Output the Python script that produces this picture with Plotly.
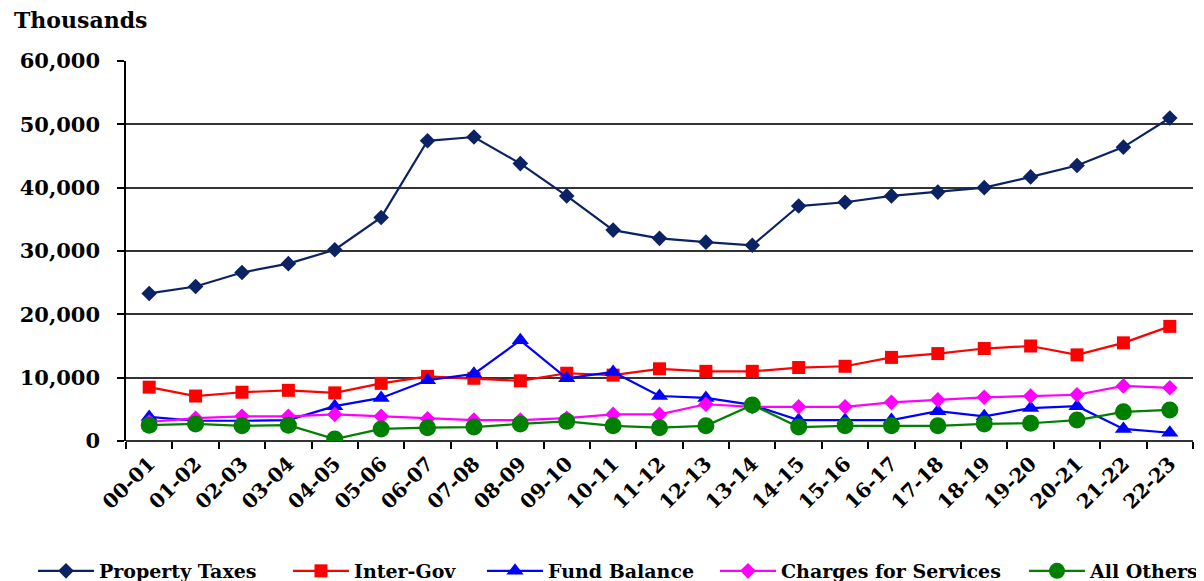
import plotly.graph_objects as go

years = ["00-01","01-02","02-03","03-04","04-05","05-06","06-07","07-08","08-09","09-10",
         "10-11","11-12","12-13","13-14","14-15","15-16","16-17","17-18","18-19","19-20",
         "20-21","21-22","22-23"]

property_taxes = [23300, 24400, 26600, 28000, 30200, 35300, 47400, 48000, 43800, 38700,
                  33300, 32000, 31400, 30900, 37100, 37700, 38700, 39300, 40000, 41700,
                  43500, 46400, 51000]
inter_gov = [8500, 7100, 7700, 8000, 7600, 9100, 10200, 9900, 9500, 10700,
             10400, 11400, 11000, 11000, 11600, 11800, 13200, 13800, 14600, 15000,
             13600, 15500, 18100]
fund_balance = [3800, 3200, 3200, 3300, 5500, 6800, 9600, 10600, 15900, 9900,
                10900, 7100, 6800, 5700, 3300, 3300, 3300, 4700, 3900, 5200,
                5500, 1900, 1300]
charges = [3000, 3600, 3900, 3900, 4200, 3900, 3500, 3300, 3300, 3600,
           4200, 4200, 5800, 5400, 5400, 5400, 6100, 6500, 6900, 7100,
           7300, 8700, 8400]
all_others = [2500, 2700, 2400, 2500, 300, 1900, 2100, 2200, 2700, 3100,
              2400, 2100, 2400, 5700, 2200, 2400, 2400, 2400, 2700, 2800,
              3300, 4600, 4900]

y_ticks = [0, 10000, 20000, 30000, 40000, 50000, 60000]
y_tick_labels = ["0", "10,000", "20,000", "30,000", "40,000", "50,000", "60,000"]

series = [
    ("Property Taxes", property_taxes, "#0b2264", "diamond", 12),
    ("Inter-Gov", inter_gov, "#ff0000", "square", 13),
    ("Fund Balance", fund_balance, "#0000ff", "triangle-up", 15),
    ("Charges for Services", charges, "#ff00ff", "diamond", 12),
    ("All Others", all_others, "#008000", "circle", 17),
]
legend_x = [25, 280, 474, 707, 1016]   # left edge of each legend entry (px)

FONT = "DejaVu Serif"
W, H = 1204, 581

fig = go.Figure()
legend_layout = {}
for i, (name, vals, color, sym, size) in enumerate(series):
    key = "legend" if i == 0 else f"legend{i+1}"
    fig.add_trace(go.Scatter(
        x=years, y=vals, name=name, mode="lines+markers",
        line=dict(color=color, width=2.2),
        marker=dict(symbol=sym, size=size, color=color),
        legend=key,
    ))
    legend_layout[key] = dict(
        orientation="h", xref="container", yref="container",
        x=legend_x[i] / W, xanchor="left", y=0.031, yanchor="middle",
        font=dict(family=FONT, size=19, color="black", weight="bold"),
        itemwidth=56, bgcolor="rgba(0,0,0,0)",
    )

fig.update_layout(
    width=W, height=H,
    margin=dict(l=118, r=19, t=53, b=148),
    paper_bgcolor="white", plot_bgcolor="white",
    font=dict(family=FONT, color="black", size=18),
    showlegend=True,
    annotations=[dict(text="<b>Thousands</b>", xref="paper", yref="paper",
                      x=-0.1066, y=1.108, xanchor="left", yanchor="middle",
                      showarrow=False, font=dict(family=FONT, size=22, color="black"))],
    **legend_layout,
)
fig.update_xaxes(
    type="category", range=[-0.5, len(years) - 0.5], automargin=False,
    tickangle=-45, tickson="boundaries", ticks="outside", ticklen=7,
    tickcolor="black", tickwidth=1.5, ticklabelstandoff=6,
    showline=False, showgrid=False, zeroline=False,
    tickfont=dict(family=FONT, size=20, color="black", weight="bold"),
)
fig.update_yaxes(
    range=[0, 60000], tickvals=y_ticks, ticktext=y_tick_labels, automargin=False,
    ticks="outside", ticklen=7, tickcolor="black", tickwidth=1.5, ticklabelstandoff=13,
    showline=True, linecolor="black", linewidth=1.5,
    showgrid=True, gridcolor="#333333", gridwidth=1.5,
    zeroline=True, zerolinecolor="#333333", zerolinewidth=1.5,
    tickfont=dict(family=FONT, size=21, color="black", weight="bold"),
)

fig.write_html("out.html")
